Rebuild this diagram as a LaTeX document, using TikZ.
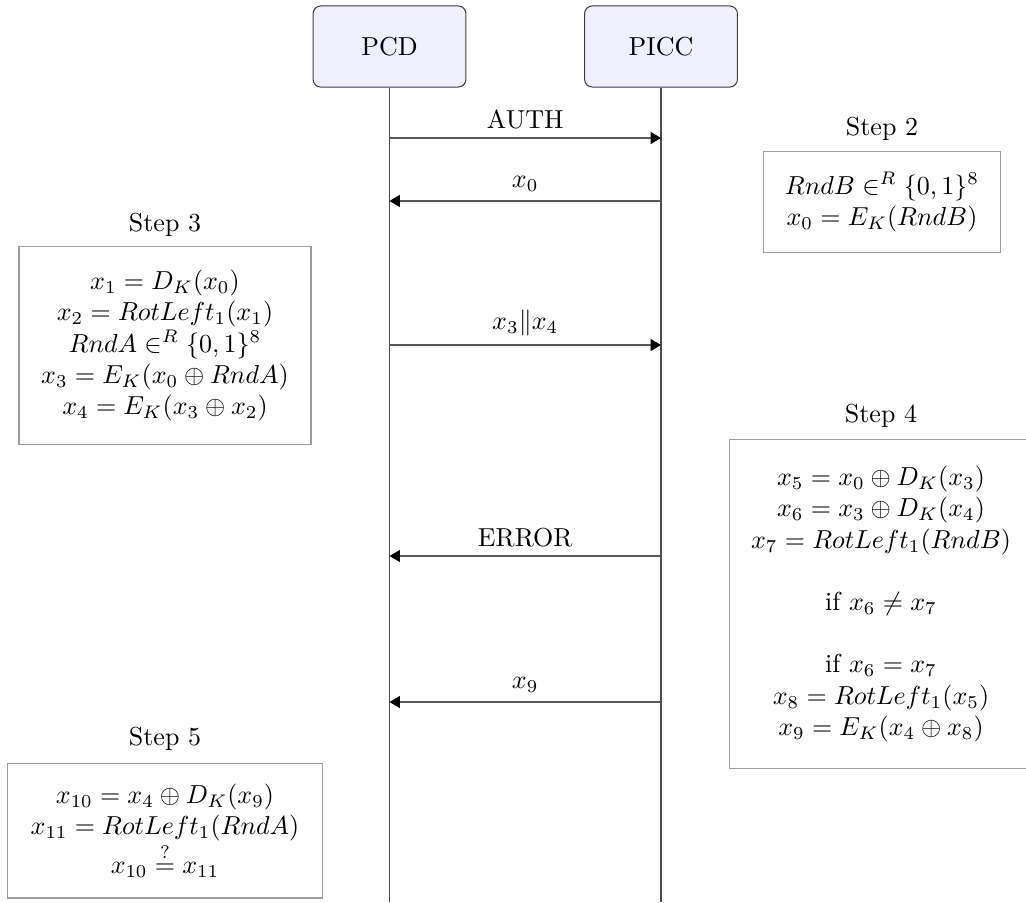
\documentclass[tikz,border=0pt]{standalone}
\usetikzlibrary{arrows.meta}
\definecolor{actorfill}{RGB}{240,240,255}
\begin{document}
\begin{tikzpicture}[x=0.3846pt,y=-0.3846pt,
  actor/.style={draw=black!75, fill=actorfill, rounded corners=3pt,
    minimum width=58.8pt, minimum height=31.2pt, line width=0.4pt},
  lifeline/.style={draw=black!70, line width=0.4pt},
  msg/.style={draw=black!65, line width=0.45pt,
    -{Triangle[length=4pt,width=4.6pt,color=black]}},
  frame/.style={draw=black!38, line width=0.4pt, inner sep=0pt},
  steptext/.style={align=center, inner sep=0pt},
  steplabel/.style={inner sep=0pt}]
  \useasboundingbox (0,0) rectangle (1026,902);
  \clip (0,0) rectangle (1026,902);

  % participants
  \node[actor] (pcd)  at (389.5,46.5) {PCD};
  \node[actor] (picc) at (661,46.5)   {PICC};
  \coordinate (pcdEnd)  at (pcd.south |- 0,902);
  \coordinate (piccEnd) at (picc.south |- 0,902);
  \draw[lifeline] (pcd.south) -- (pcdEnd);
  \draw[lifeline] (picc.south) -- (piccEnd);

  % message end points on the lifelines
  \foreach \n/\y in {auth/138, xzero/201, xtf/345, err/556, xnine/702}{
    \coordinate (L\n) at (pcd.south |- 0,\y);
    \coordinate (R\n) at (picc.south |- 0,\y);
  }

  % messages
  \draw[msg] (Lauth)  -- node[above] {AUTH} (Rauth);
  \draw[msg] (Rxzero) -- node[above] {$x_0$} (Lxzero);
  \draw[msg] (Lxtf)   -- node[above] {$x_3 \| x_4$} (Rxtf);
  \draw[msg] (Rerr)   -- node[above] {ERROR} (Lerr);
  \draw[msg] (Rxnine) -- node[above] {$x_9$} (Lxnine);

  % step 2
  \node[frame, minimum width=91.5pt, minimum height=38.5pt] (s2box) at (882,202) {};
  \node[steptext] (s2) at (882,202) {$RndB \in^R \{0,1\}^8$\\ $x_0 = E_K(RndB)$};
  \node[steplabel] (s2lab) at (882,129) {Step 2};

  % step 3
  \node[frame, minimum width=112.3pt, minimum height=75.8pt] (s3box) at (165,345.5) {};
  \node[steptext] (s3) at (165,345.5) {$x_1 = D_K(x_0)$\\ $x_2 = RotLeft_1(x_1)$\\
    $RndA \in^R \{0,1\}^8$\\ $x_3 = E_K(x_0 \oplus RndA)$\\ $x_4 = E_K(x_3 \oplus x_2)$};
  \node[steplabel] (s3lab) at (165,225) {Step 3};

  % step 4
  \node[frame, minimum width=122pt, minimum height=126.2pt] (s4box) at (888,604) {};
  \node[steptext] (s4) at (881,604) {$x_5 = x_0 \oplus D_K(x_3)$\\ $x_6 = x_3 \oplus D_K(x_4)$\\
    $x_7 = RotLeft_1(RndB)$\\[12pt] if $x_6 \neq x_7$\\[12pt] if $x_6 = x_7$\\
    $x_8 = RotLeft_1(x_5)$\\ $x_9 = E_K(x_4 \oplus x_8)$};
  \node[steplabel] (s4lab) at (881,416) {Step 4};

  % step 5
  \node[frame, minimum width=120.8pt, minimum height=51.9pt] (s5box) at (165,830.5) {};
  \node[steptext] (s5) at (165,830.5) {$x_{10} = x_4 \oplus D_K(x_9)$\\
    $x_{11} = RotLeft_1(RndA)$\\ $x_{10} \stackrel{?}{=} x_{11}$};
  \node[steplabel] (s5lab) at (165,739) {Step 5};
\end{tikzpicture}
\end{document}
